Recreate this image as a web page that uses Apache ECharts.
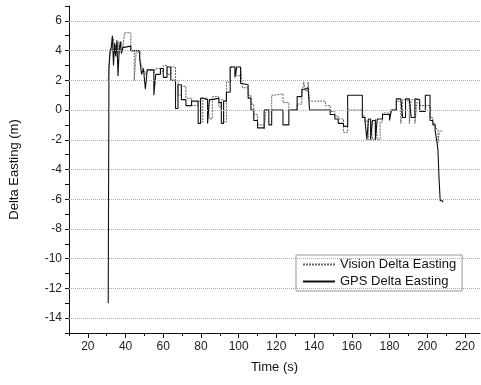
<!DOCTYPE html>
<html>
<head>
<meta charset="utf-8">
<script src="https://cdn.jsdelivr.net/npm/echarts@6/dist/echarts.min.js"></script>
<style>
    html, body { margin: 0; padding: 0; background: #fff; }
    #chart { width: 481px; height: 385px; }
</style>
</head>
<body>
<div id="chart"></div>
<script>
    // time (s), each value holds until the next time
    const time = [
        30.8, 31.2, 31.8, 32.4, 33.0, 33.6, 34.2, 34.8, 35.4, 36.0,
        36.6, 37.2, 37.8, 38.5, 39.4, 42.8, 44.6, 45.6, 47.5, 48.5,
        49.5, 50.5, 51.5, 55.0, 56.0, 58.5, 60.0, 62.0, 64.0, 66.5,
        67.8, 69.6, 72.0, 75.0, 78.5, 79.8, 81.0, 83.5, 84.5, 86.0,
        89.5, 90.8, 92.0, 93.5, 95.5, 98.0, 99.0, 101.0, 102.0, 105.0,
        106.5, 108.0, 110.0, 113.5, 114.5, 116.0, 117.5, 119.0, 123.5, 126.6,
        131.0, 133.5, 134.5, 135.3, 136.8, 137.6, 146.0, 148.5, 151.0, 152.8,
        155.6, 157.8, 165.6, 167.0, 168.0, 168.8, 170.0, 171.0, 172.5, 173.5,
        175.0, 176.3, 180.0, 181.0, 183.6, 186.0, 187.0, 188.5, 190.5, 191.5,
        193.5, 194.5, 196.0, 199.0, 201.5, 203.0, 204.2, 205.0, 205.7, 206.3,
        206.9, 208.2
    ]
    const gps = [
        -13, 2.9, 4.0, 4.2, 5.0, 3.0, 4.5, 3.6, 4.7, 2.3,
        4.0, 4.6, 3.8, 4.2, 4.3, 4.0, 4.0, 4.0, 3.4, 2.4,
        2.8, 1.4, 2.7, 1.0, 2.4, 2.8, 2.2, 2.9, 2.0, 0.1,
        1.7, 0.7, 0.3, 0.6, -0.9, 0.8, 0.7, -0.9, 0.7, 0.8,
        0.5, -0.9, 0.6, 1.2, 2.9, 2.2, 2.9, 1.8, 1.7, 0.8,
        0.0, -0.7, -1.2, 0.0, 0.0, -1.0, 0.0, 0.0, -1.0, 0.0,
        0.9, 1.4, 1.4, 1.5, 1.4, 0.0, 0.0, -0.3, -0.6, -0.9,
        -1.1, 1.0, -0.5, -0.7, -2.0, -0.6, -2.0, -0.7, -2.0, -0.6,
        -0.6, -0.3, -0.7, 0.0, 0.75, 0.7, -0.5, 0.75, 0.7, -0.5,
        0.75, 0.7, -0.1, 1.0, -0.7, -1.0, -1.4, -2.0, -2.7, -4.7,
        -6.1, -6.2
    ]
    const vision = [
        2.0, 2.9, 3.8, 4.0, 4.4, 4.8, 3.8, 4.4, 4.0, 4.6,
        3.8, 4.2, 4.6, 4.0, 5.2, 4.0, 2.0, 3.9, 3.5, 3.0,
        2.7, 2.4, 2.7, 2.5, 2.8, 2.6, 3.0, 2.4, 2.9, 2.0,
        1.0, 1.6, 0.8, 0.3, 0.6, -0.8, 0.8, 0.6, -0.6, 0.9,
        0.2, 0.7, -0.8, 1.9, 2.9, 2.9, 2.3, 2.9, 1.5, 1.0,
        0.4, -0.3, -1.0, -1.3, 0.0, 0.0, 1.0, 1.1, 0.5, 0.0,
        0.4, 1.0, 1.9, 1.3, 1.9, 0.6, 0.3, -0.1, -0.4, -0.6,
        -1.5, 0.0, -0.4, -0.8, -0.7, -2.0, -0.7, -2.0, -0.6, -2.0,
        -0.8, -0.2, -0.5, 0.0, 0.6, -0.9, 0.7, 0.6, -0.9, 0.7,
        -0.9, 0.5, 0.3, 0.3, -0.5, -0.9, -1.2, -1.3, -2.2, -1.6,
        -1.4, -1.4
    ]
    const xLabels = [20, 40, 60, 80, 100, 120, 140, 160, 180, 200, 220]
    const xMinor = [10, 30, 50, 70, 90, 110, 130, 150, 170, 190, 210]
    const yGrid = [-14, -12, -10, -8, -6, -4, -2, 0, 2, 4, 6]

    const chart = echarts.init(document.getElementById('chart'))
    const font = 'Liberation Sans, Arial, sans-serif'

    chart.setOption({
        animation: false,
        backgroundColor: '#fff',
        textStyle: { fontFamily: font },
        grid: { left: 66, right: 1, top: 6, bottom: 52 },
        legend: {
            orient: 'vertical',
            left: 296,
            top: 255,
            padding: [3, 6, 3, 6],
            itemGap: 4,
            itemWidth: 32,
            itemHeight: 12,
            borderColor: '#999',
            borderWidth: 1,
            itemStyle: { opacity: 0 },
            textStyle: { fontFamily: font, fontSize: 13, color: '#111' },
            data: ['Vision Delta Easting', 'GPS Delta Easting']
        },
        xAxis: [
            {
                type: 'value',
                min: 10,
                max: 228,
                name: 'Time (s)',
                nameLocation: 'middle',
                nameGap: 28,
                nameTextStyle: { fontSize: 13, color: '#111' },
                axisLine: { onZero: false, lineStyle: { color: '#111', width: 1 } },
                axisTick: { customValues: xLabels, length: 5, lineStyle: { color: '#111' } },
                axisLabel: { customValues: xLabels, fontSize: 12, color: '#222', margin: 8 },
                splitLine: { show: false }
            },
            {
                type: 'value',
                min: 10,
                max: 228,
                position: 'bottom',
                axisLine: { show: false, onZero: false },
                axisTick: { customValues: xMinor, length: 3, lineStyle: { color: '#111' } },
                axisLabel: { show: false },
                splitLine: { show: false }
            }
        ],
        yAxis: {
            type: 'value',
            min: -15,
            max: 7,
            interval: 1,
            name: 'Delta Easting (m)',
            nameLocation: 'middle',
            nameGap: 48,
            nameTextStyle: { fontSize: 13, color: '#111' },
            axisLine: { show: true, onZero: false, lineStyle: { color: '#111', width: 1 } },
            axisTick: { length: 4, lineStyle: { color: '#111' } },
            axisLabel: {
                fontSize: 12,
                color: '#222',
                margin: 7,
                formatter: v => (v % 2 === 0 ? String(v) : '')
            },
            splitLine: { show: false }
        },
        series: [
            {
                name: 'Vision Delta Easting',
                type: 'line',
                step: 'end',
                symbol: 'none',
                itemStyle: { color: '#666' },
                lineStyle: { color: '#666', width: 1, type: [2, 1] },
                data: time.map((t, i) => [t, vision[i]]),
                markLine: {
                    silent: true,
                    symbol: 'none',
                    label: { show: false },
                    lineStyle: { color: '#aaa', width: 1, type: 'dotted' },
                    data: yGrid.map(v => ({ yAxis: v }))
                }
            },
            {
                name: 'GPS Delta Easting',
                type: 'line',
                step: 'end',
                symbol: 'none',
                itemStyle: { color: '#111' },
                lineStyle: { color: '#111', width: 1.1 },
                data: time.map((t, i) => [t, gps[i]])
            }
        ]
    })
</script>
</body>
</html>
